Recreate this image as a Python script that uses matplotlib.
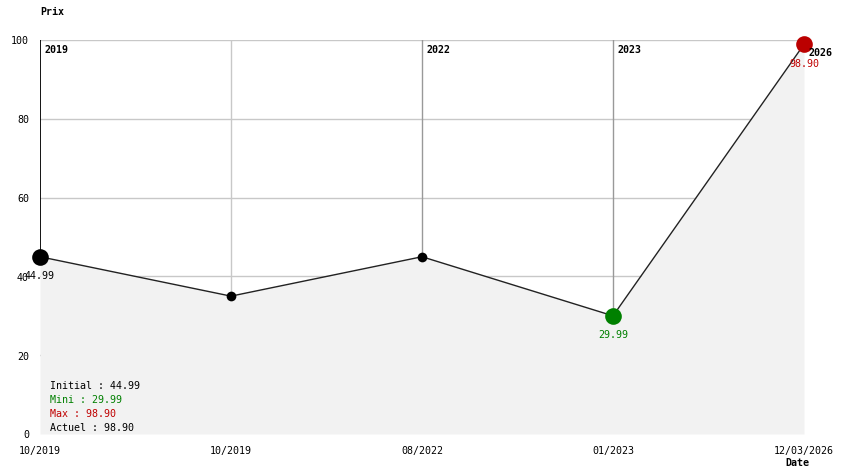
import matplotlib
matplotlib.use("Agg")
import matplotlib.pyplot as plt

dates = ["10/2019", "10/2019", "08/2022", "01/2023", "12/03/2026"]
prices = [44.99, 34.99, 44.99, 29.99, 98.90]
year_marks = {0: "2019", 2: "2022", 3: "2023", 4: "2026"}
y_ticks = [0, 20, 40, 60, 80, 100]
summary = [("Initial : 44.99", "black"), ("Mini : 29.99", "#008000"),
           ("Max : 98.90", "#c00000"), ("Actuel : 98.90", "black")]

W, H = 844, 474
fig = plt.figure(figsize=(W / 100, H / 100), dpi=100)
ax = fig.add_axes([40 / W, 40 / H, 764 / W, 394 / H])
mono = "DejaVu Sans Mono"
fs = 7.2

x = list(range(len(prices)))
ax.set_xlim(0, len(prices) - 1)
ax.set_ylim(0, 100)
for s in ax.spines.values():
    s.set_visible(False)
ax.set_xticks([])
ax.set_yticks([])

# grid
for yv in y_ticks[1:]:
    ax.axhline(yv, color="#c8c8c8", lw=1, zorder=1)
for i in x:
    if i == 0:
        ax.vlines(i, prices[i], 100, color="black", lw=1.3, zorder=3)
    elif i in year_marks and i != len(x) - 1:
        ax.axvline(i, color="#999999", lw=1, zorder=1)
    elif i not in year_marks:
        ax.axvline(i, color="#c8c8c8", lw=1, zorder=1)

ax.fill_between(x, prices, 0, color="#f2f2f2", zorder=2, lw=0)
ax.plot(x, prices, color="#222222", lw=1, zorder=3)

imin = prices.index(min(prices))
imax = prices.index(max(prices))
for i, p in enumerate(prices):
    if i == imax:
        c, ms = "#bb0000", 12
    elif i == imin:
        c, ms = "#008000", 12
    elif i == 0:
        c, ms = "black", 12
    else:
        c, ms = "black", 7
    ax.plot(i, p, "o", color=c, ms=ms, zorder=4, mec="none", clip_on=False)

# value labels
ax.annotate(f"{prices[0]:.2f}", (0, prices[0]), xytext=(0, -14), textcoords="offset points",
            ha="center", va="center", fontsize=fs, family=mono, color="black", zorder=5,
            annotation_clip=False)
ax.annotate(f"{prices[imin]:.2f}", (imin, prices[imin]), xytext=(0, -14), textcoords="offset points",
            ha="center", va="center", fontsize=fs, family=mono, color="#008000", zorder=5)
ax.annotate(f"{prices[imax]:.2f}", (imax, prices[imax]), xytext=(0, -14), textcoords="offset points",
            ha="center", va="center", fontsize=fs, family=mono, color="#c00000", zorder=5,
            annotation_clip=False)

# year labels
for i, yr in year_marks.items():
    dy = -9 if i == len(x) - 1 else -7.5
    ax.annotate(yr, (i, 100), xytext=(3, dy), textcoords="offset points", ha="left",
                va="center", fontsize=fs, family=mono, fontweight="bold", zorder=5,
                annotation_clip=False)

# y tick labels
for yv in y_ticks:
    ax.annotate(str(yv), (0, yv), xytext=(-8, -1), textcoords="offset points", ha="right",
                va="center", fontsize=fs, family=mono, annotation_clip=False, zorder=0)

# x tick labels
for i, d in enumerate(dates):
    ax.annotate(d, (i, 0), xytext=(0, -12.5), textcoords="offset points", ha="center",
                va="center", fontsize=fs, family=mono, annotation_clip=False)

fig.text(40 / W, 1 - 12 / H, "Prix", ha="left", va="center", fontsize=fs, family=mono,
         fontweight="bold")
fig.text(797 / W, 1 - 463 / H, "Date", ha="center", va="center", fontsize=fs, family=mono,
         fontweight="bold")

# summary box text
for k, (t, c) in enumerate(summary):
    fig.text(50 / W, 1 - (386 + k * 14) / H, t, ha="left", va="center", fontsize=fs,
             family=mono, color=c)

fig.savefig("out.png", dpi=100)
